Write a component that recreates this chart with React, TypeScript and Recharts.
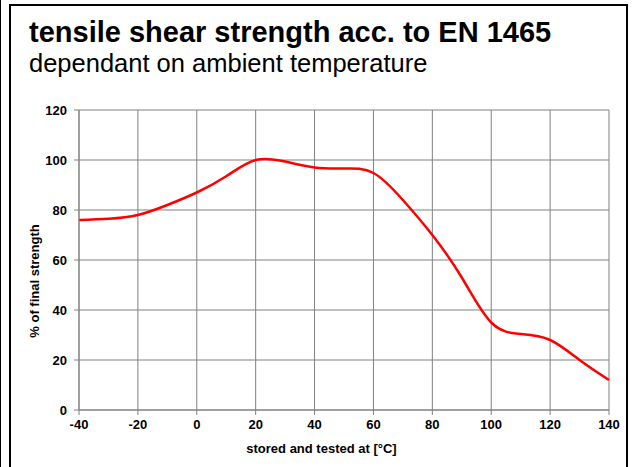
import React from 'react';
import { LineChart, Line, XAxis, YAxis, CartesianGrid } from 'recharts';

const temperatures = [-40, -30, -20, -10, 0, 10, 20, 30, 40, 50, 60, 70, 80, 90, 100, 110, 120, 130, 140];
const strengthPct = [76, 76.5, 78, 82, 87, 93.5, 100, 99.4, 97, 96.6, 94.8, 84, 70, 53, 35, 30.4, 28, 20, 12];
const xTicks = [-40, -20, 0, 20, 40, 60, 80, 100, 120, 140];
const yTicks = [0, 20, 40, 60, 80, 100, 120];

const titleText = 'tensile shear strength acc. to EN 1465';
const subtitleText = 'dependant on ambient temperature';
const xTitle = 'stored and tested at [°C]';
const yTitle = '% of final strength';

const data = temperatures.map((t, i) => ({ t, v: strengthPct[i] }));

const FONT = '"Liberation Sans", Arial, sans-serif';
const tickStyle = { fill: '#000', fontFamily: FONT, fontSize: 13, fontWeight: 'bold' as const };

export default function App() {
  return (
    <div style={{ position: 'absolute', left: 0, top: 0, width: 636, height: 467, overflow: 'hidden', background: '#fff' }}>
      <div style={{ position: 'absolute', left: 0, top: 0, width: 1, height: 467, background: '#000' }} />
      <div
        style={{
          position: 'absolute',
          left: 9,
          top: 4,
          width: 619,
          height: 500,
          border: '2px solid #000',
          boxSizing: 'border-box',
        }}
      />
      <div
        style={{
          position: 'absolute',
          left: 29,
          top: 18,
          fontFamily: FONT,
          fontWeight: 'bold',
          fontSize: 29,
          lineHeight: 1,
          whiteSpace: 'nowrap',
          color: '#000',
        }}
      >
        {titleText}
      </div>
      <div
        style={{
          position: 'absolute',
          left: 29,
          top: 51,
          fontFamily: FONT,
          fontSize: 25.5,
          lineHeight: 1,
          whiteSpace: 'nowrap',
          color: '#000',
        }}
      >
        {subtitleText}
      </div>
      <div style={{ position: 'absolute', left: 0, top: 0 }}>
        <LineChart width={636} height={467} data={data} margin={{ top: 110, right: 27, bottom: 27, left: 20 }}>
          <CartesianGrid stroke="#808080" strokeWidth={1} />
          <XAxis
            dataKey="t"
            type="number"
            domain={[-40, 140]}
            ticks={xTicks}
            height={30}
            stroke="#808080"
            tickSize={5}
            tickMargin={5}
            tick={tickStyle}
            interval={0}
          />
          <YAxis
            type="number"
            domain={[0, 120]}
            ticks={yTicks}
            width={59}
            stroke="#808080"
            tickSize={5}
            tickMargin={7}
            tick={tickStyle}
            interval={0}
          />
          <Line
            type="natural"
            dataKey="v"
            stroke="#ff0000"
            strokeWidth={2.5}
            dot={false}
            activeDot={false}
            isAnimationActive={false}
          />
        </LineChart>
      </div>
      <div
        style={{
          position: 'absolute',
          left: 171.5,
          width: 300,
          top: 441.5,
          textAlign: 'center',
          fontFamily: FONT,
          fontWeight: 'bold',
          fontSize: 13,
          lineHeight: 1,
          whiteSpace: 'nowrap',
          color: '#000',
        }}
      >
        {xTitle}
      </div>
      <div
        style={{
          position: 'absolute',
          left: -65,
          width: 200,
          top: 274,
          height: 14,
          lineHeight: '14px',
          textAlign: 'center',
          fontFamily: FONT,
          fontWeight: 'bold',
          fontSize: 13,
          whiteSpace: 'nowrap',
          color: '#000',
          transform: 'rotate(-90deg)',
        }}
      >
        {yTitle}
      </div>
    </div>
  );
}
